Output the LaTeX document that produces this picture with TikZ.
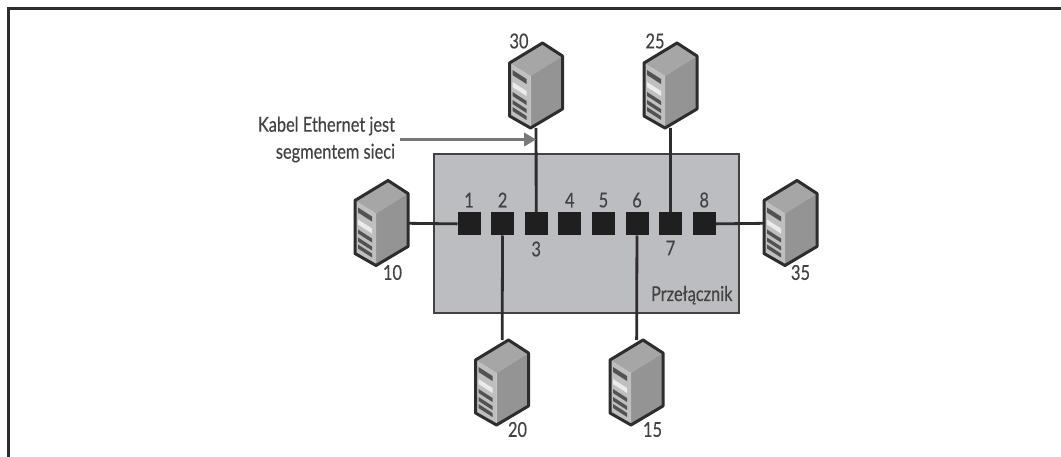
\documentclass[tikz,border=0pt]{standalone}
\usepackage{fontspec}
\setmainfont[FakeStretch=0.80,FakeBold=0.35]{Lato}
\usetikzlibrary{positioning,arrows.meta}

\definecolor{inkdark}{HTML}{2E2C2D}
\definecolor{switchgray}{HTML}{BCBDC0}
\definecolor{arrowgray}{HTML}{77787B}

\tikzset{
    wire/.style={draw=inkdark,line width=2.8pt},
    switchbox/.style={draw=inkdark!90,line width=2.8pt,fill=switchgray,inner sep=0pt,
        minimum width=305pt,minimum height=159pt},
    port/.style={fill=black!88,inner sep=0pt,outer sep=0pt,minimum size=23pt},
    server/.style={inner sep=0pt,outer sep=0pt,minimum width=53pt,minimum height=85pt},
    tag/.style={inner sep=0pt,outer sep=0pt,text=inkdark!90,font=\fontsize{20.5}{27}\selectfont},
}

\newcommand{\servericon}[1]{
\begin{scope}[shift={(#1.north west)}]
\fill[black!35] (0,20) -- (33,0) -- (53,13) -- (21,33) -- cycle;
\fill[black!42] (21,33) -- (53,13) -- (53,66) -- (21,85) -- cycle;
\fill[black!25] (0,20) -- (21,33) -- (21,85) -- (0,73) -- cycle;
\fill[black!68] (3,27) -- (17,36) -- (17,41) -- (3,32) -- cycle;
\fill[black!8] (3,39) -- (17,48) -- (17,53) -- (3,44) -- cycle;
\fill[black!68] (3,49) -- (17,58) -- (17,62) -- (3,53) -- cycle;
\fill[black!68] (3,57) -- (17,66) -- (17,70) -- (3,61) -- cycle;
\fill[black!68] (3,64) -- (17,73) -- (17,77) -- (3,68) -- cycle;
\draw[inkdark,line width=3pt,line join=round] (0,20) -- (33,0) -- (53,13) -- (53,66)
    -- (21,85) -- (0,73) -- cycle;
\end{scope}
}

\begin{document}
\begin{tikzpicture}[x=1pt,y=-1pt]
\useasboundingbox (0,0) rectangle (1061,457);

% outer frame, open at the bottom
\coordinate (fa) at (8.5,457);
\coordinate (fb) at (8.5,8.5);
\coordinate (fc) at (1061,8.5);
\draw[wire,line width=3pt] (fa) -- (fb) -- (fc);

\node[switchbox] (sw) at (586.5,233.5) {};
\node[tag,anchor=base east] (swname) at (732.5,301) {Przełącznik};

% ports
\node[port] (p1) at (469,224) {};
\node[port,right=10.6pt of p1] (p2) {};
\node[port,right=10.6pt of p2] (p3) {};
\node[port,right=10.6pt of p3] (p4) {};
\node[port,right=10.6pt of p4] (p5) {};
\node[port,right=10.6pt of p5] (p6) {};
\node[port,right=10.6pt of p6] (p7) {};
\node[port,right=10.6pt of p7] (p8) {};

\node[tag,above=5pt of p1] (n1) {1};
\node[tag,above=5pt of p2] (n2) {2};
\node[tag,below=25pt of p3.center,anchor=center] (n3) {3};
\node[tag,above=5pt of p4] (n4) {4};
\node[tag,above=5pt of p5] (n5) {5};
\node[tag,above=5pt of p6] (n6) {6};
\node[tag,below=24pt of p7.center,anchor=center] (n7) {7};
\node[tag,above=5pt of p8] (n8) {8};

% servers
\node[server] (s30) at (536,85.5) {};
\node[server] (s25) at (670.5,85.5) {};
\node[server] (s10) at (381.5,223) {};
\node[server] (s35) at (790.5,223) {};
\node[server] (s20) at (502,382.5) {};
\node[server] (s15) at (636.5,382.5) {};

\draw[wire]
(s10) -- (p1)
(p2) -- (s20)
(p3) -- (s30)
(p6) -- (s15)
(p7) -- (s25)
(p8) -- (s35)
;

\foreach \s in {s30,s25,s10,s35,s20,s15} {\servericon{\s}}

\node[tag] (l30) at (519,41) {30};
\node[tag] (l25) at (655,41) {25};
\node[tag] (l10) at (392.5,272.5) {10};
\node[tag] (l35) at (800.5,272.5) {35};
\node[tag] (l20) at (517.5,429.5) {20};
\node[tag] (l15) at (652.5,429.5) {15};

% cable note
\node[tag,align=right,anchor=east] (note) at (395,139.5) {Kabel Ethernet jest\\segmentem sieci};
\coordinate (hit) at (note -| p3);
\draw[draw=arrowgray,line width=3pt,-{Triangle[length=12pt,width=13pt]},shorten <=5pt] (note) -- (hit);
\end{tikzpicture}
\end{document}
